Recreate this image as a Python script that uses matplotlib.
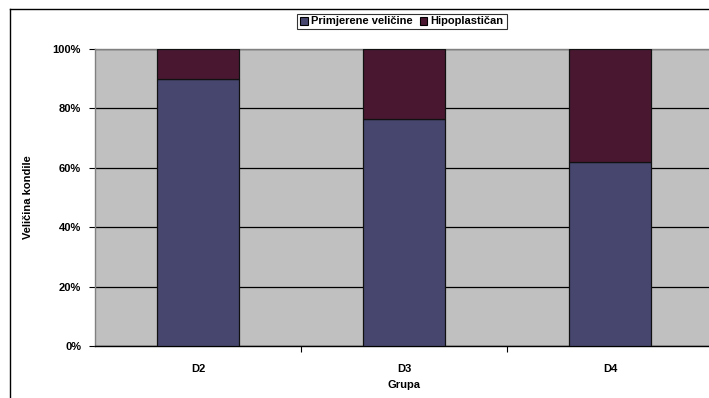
import matplotlib
matplotlib.use("Agg")
import matplotlib.pyplot as plt
from matplotlib.lines import Line2D
from matplotlib.patches import Patch
from matplotlib import font_manager as fm
import numpy as np

categories = ["D2", "D3", "D4"]
primjerene = [90.0, 76.5, 62.0]
hipoplastican = [10.0, 23.5, 38.0]
series_names = ["Primjerene veličine", "Hipoplastičan"]
yticks = [0, 20, 40, 60, 80, 100]

bold_path = None
for f in fm.findSystemFonts():
    if f.endswith("LiberationSans-Bold.ttf"):
        bold_path = f
        break
if bold_path:
    fm.fontManager.addfont(bold_path)
    fp = fm.FontProperties(fname=bold_path, size=8.0)
else:
    fp = fm.FontProperties(family="DejaVu Sans", weight="bold", size=7)

W, H = 709, 398
fig = plt.figure(figsize=(W / 100, H / 100), dpi=100)

left, right, top, bottom = 95, 713, 49, 346
ax = fig.add_axes([left / W, (H - bottom) / H, (right - left) / W, (bottom - top) / H])
ax.set_facecolor("#C0C0C0")

x = np.arange(len(categories))
c1, c2 = "#46466F", "#4A1730"
ax.bar(x, primjerene, width=0.40, color=c1, edgecolor="#111111", linewidth=0.9, zorder=3)
ax.bar(x, hipoplastican, width=0.40, bottom=primjerene, color=c2, edgecolor="#111111", linewidth=0.9, zorder=3)

ax.set_xlim(-0.5, len(categories) - 0.5)
ax.set_ylim(0, 100)
ax.set_yticks(yticks)
ax.set_yticklabels([f"{v}%" for v in yticks], fontproperties=fp)
ax.yaxis.grid(True, color="black", linewidth=0.9, zorder=1)
ax.set_axisbelow(True)

ax.set_xticks(x)
ax.set_xticklabels(categories, fontproperties=fp)
ax.tick_params(axis="x", length=0, pad=13)
ax.set_xticks(np.arange(0.5, len(categories) - 0.5, 1), minor=True)
ax.tick_params(axis="x", which="minor", length=4, width=0.8, direction="out")
ax.tick_params(axis="y", length=4, width=0.8, direction="out", pad=6)

for s in ["top", "right", "left"]:
    ax.spines[s].set_color("#808080")
    ax.spines[s].set_linewidth(1.0)
ax.spines["bottom"].set_color("black")
ax.spines["bottom"].set_linewidth(1.0)

ax.set_xlabel("Grupa", fontproperties=fp, labelpad=4)
ax.set_ylabel("Veličina kondile", fontproperties=fp, labelpad=14)

handles = [Patch(facecolor=c1, edgecolor="black", linewidth=0.8),
           Patch(facecolor=c2, edgecolor="black", linewidth=0.8)]
leg = fig.legend(handles, series_names, loc="center",
                 bbox_to_anchor=(402 / W, 1 - 21.5 / H), ncol=2, frameon=True,
                 prop=fp,
                 handlelength=0.7, handleheight=0.7, handletextpad=0.3,
                 columnspacing=0.6, borderpad=0.25, fancybox=False)
leg.get_frame().set_edgecolor("black")
leg.get_frame().set_linewidth(0.8)

fig.add_artist(Line2D([10 / W, 10 / W], [0, 1 - 9 / H], color="black", linewidth=1.0, transform=fig.transFigure))
fig.add_artist(Line2D([10 / W, 1], [1 - 9 / H, 1 - 9 / H], color="black", linewidth=1.0, transform=fig.transFigure))

fig.savefig("out.png", dpi=100)
